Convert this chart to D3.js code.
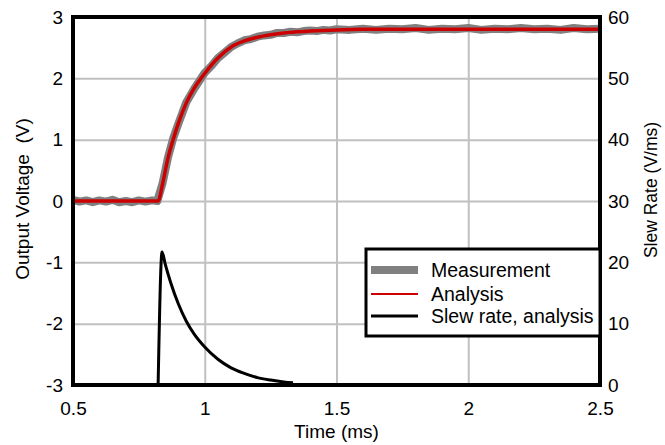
<!DOCTYPE html>
<html>
<head>
<meta charset="utf-8">
<script src="https://cdn.jsdelivr.net/npm/d3@7"></script>
<style>
	body { margin: 0; background: #fff; }
	text { font-family: Arial, "Liberation Sans", sans-serif; fill: #000; }
</style>
</head>
<body>
<svg id="myChart" width="665" height="445"></svg>
<script>
// Tick values for the three axes
const timeTicks = [0.5, 1, 1.5, 2, 2.5];
const voltTicks = [-3, -2, -1, 0, 1, 2, 3];
const slewTicks = [0, 10, 20, 30, 40, 50, 60];

const measTime = [0.5, 0.525, 0.55, 0.575, 0.6, 0.625, 0.65, 0.675, 0.7, 0.725, 0.75, 0.775, 0.8, 0.82,
	0.84, 0.86, 0.88, 0.9, 0.93, 0.96, 1.0, 1.025, 1.05, 1.075, 1.1, 1.125, 1.15, 1.175, 1.2, 1.225, 1.25,
	1.275, 1.3, 1.325, 1.35, 1.375, 1.4, 1.425, 1.45, 1.475, 1.5, 1.55, 1.6, 1.65, 1.7, 1.75, 1.8, 1.85,
	1.9, 1.95, 2.0, 2.05, 2.1, 2.15, 2.2, 2.25, 2.3, 2.35, 2.4, 2.45, 2.5];
const measVolt = [0.02, -0.01, 0.01, -0.02, 0.01, -0.01, 0.02, -0.02, 0.0, -0.02, 0.01, -0.01, 0.01, 0.0,
	0.29, 0.70, 1.02, 1.26, 1.61, 1.83, 2.09, 2.20, 2.33, 2.42, 2.51, 2.57, 2.62, 2.64, 2.68, 2.70, 2.71,
	2.74, 2.74, 2.76, 2.75, 2.77, 2.78, 2.77, 2.79, 2.78, 2.80, 2.79, 2.81, 2.79, 2.81, 2.80, 2.82, 2.79,
	2.81, 2.80, 2.82, 2.79, 2.81, 2.80, 2.82, 2.80, 2.81, 2.79, 2.82, 2.80, 2.81];

// Analysis output voltage
const anaTime = [0.5, 0.823, 0.84, 0.86, 0.88, 0.9, 0.93, 0.96, 1.0, 1.05, 1.1, 1.15, 1.2, 1.3, 1.4, 1.5, 1.6, 1.8, 2.0, 2.5];
const anaVolt = [0, 0, 0.28, 0.69, 1.0, 1.27, 1.6, 1.84, 2.08, 2.33, 2.51, 2.61, 2.67, 2.74, 2.77, 2.79, 2.80, 2.80, 2.80, 2.80];

// Analysis slew rate (V/ms)
const slewTime = [0.823, 0.838, 0.85, 0.87, 0.9, 0.93, 0.96, 1.0, 1.05, 1.1, 1.15, 1.2, 1.25, 1.3, 1.335];
const slewRate = [0, 21.7, 19.7, 16.8, 13.2, 10.4, 8.3, 6.2, 4.2, 2.8, 1.9, 1.2, 0.8, 0.5, 0.35];

// Legend entries
const legendNames = ['Measurement', 'Analysis', 'Slew rate, analysis'];

// Plot frame
const plotLeft = 73, plotRight = 600, plotTop = 17, plotBottom = 385;

const svg = d3.select('#myChart');

const xScale = d3.scaleLinear().domain([0.5, 2.5]).range([plotLeft, plotRight]);
const yScale = d3.scaleLinear().domain([-3, 3]).range([plotBottom, plotTop]);
const y2Scale = d3.scaleLinear().domain([0, 60]).range([plotBottom, plotTop]);

// Grid lines
svg.append('g')
	.attr('class', 'grid-x')
	.attr('transform', `translate(0, ${plotBottom})`)
	.call(d3.axisBottom(xScale).tickValues(timeTicks.slice(1, -1)).tickSize(-(plotBottom - plotTop)).tickFormat(''))
	.call(g => g.select('.domain').remove())
	.selectAll('line').attr('stroke', '#c0c0c0').attr('stroke-width', 2);

svg.append('g')
	.attr('class', 'grid-y')
	.attr('transform', `translate(${plotLeft}, 0)`)
	.call(d3.axisLeft(yScale).tickValues(voltTicks.slice(1, -1)).tickSize(-(plotRight - plotLeft)).tickFormat(''))
	.call(g => g.select('.domain').remove())
	.selectAll('line').attr('stroke', '#c0c0c0').attr('stroke-width', 2);

// Tick labels
const styleTicks = g => {
	g.select('.domain').remove();
	g.selectAll('line').remove();
	g.selectAll('text').attr('font-size', 19).attr('font-family', 'Arial, "Liberation Sans", sans-serif').attr('fill', '#000');
};

svg.append('g')
	.attr('transform', `translate(0, ${plotBottom})`)
	.call(d3.axisBottom(xScale).tickValues(timeTicks).tickSize(0).tickFormat(d => d))
	.call(styleTicks)
	.selectAll('text').attr('y', 30).attr('dy', 0);

svg.append('g')
	.attr('transform', `translate(${plotLeft}, 0)`)
	.call(d3.axisLeft(yScale).tickValues(voltTicks).tickSize(0).tickPadding(10).tickFormat(d => d))
	.call(styleTicks);

svg.append('g')
	.attr('transform', `translate(${plotRight}, 0)`)
	.call(d3.axisRight(y2Scale).tickValues(slewTicks).tickSize(0).tickPadding(8).tickFormat(d => d))
	.call(styleTicks);

// Axis titles
svg.append('text')
	.attr('transform', 'translate(29, 199) rotate(-90)')
	.attr('text-anchor', 'middle')
	.attr('font-size', 19)
	.style('white-space', 'pre')
	.text('Output Voltage  (V)');

svg.append('text')
	.attr('transform', 'translate(657, 190) rotate(-90)')
	.attr('text-anchor', 'middle')
	.attr('font-size', 17.5)
	.text('Slew Rate (V/ms)');

svg.append('text')
	.attr('x', (plotLeft + plotRight) / 2)
	.attr('y', 438)
	.attr('text-anchor', 'middle')
	.attr('font-size', 19)
	.text('Time (ms)');

// Clip the curves to the frame
svg.append('clipPath').attr('id', 'plotClip')
	.append('rect')
	.attr('x', plotLeft).attr('y', plotTop)
	.attr('width', plotRight - plotLeft).attr('height', plotBottom - plotTop);

const plot = svg.append('g').attr('clip-path', 'url(#plotClip)');

const voltLine = d3.line()
	.x(p => xScale(p[0]))
	.y(p => yScale(p[1]));

const slewLine = d3.line()
	.x(p => xScale(p[0]))
	.y(p => y2Scale(p[1]));

plot.append('path')
	.datum(measTime.map((t, i) => [t, measVolt[i]]))
	.attr('d', voltLine)
	.attr('fill', 'none')
	.attr('stroke', '#808080')
	.attr('stroke-width', 8)
	.attr('stroke-linejoin', 'round');

plot.append('path')
	.datum(anaTime.map((t, i) => [t, anaVolt[i]]))
	.attr('d', voltLine.curve(d3.curveMonotoneX))
	.attr('fill', 'none')
	.attr('stroke', '#cc0000')
	.attr('stroke-width', 3.5);

plot.append('path')
	.datum(slewTime.map((t, i) => [t, slewRate[i]]))
	.attr('d', slewLine.curve(d3.curveMonotoneX))
	.attr('fill', 'none')
	.attr('stroke', '#000')
	.attr('stroke-width', 3);

// Frame
svg.append('rect')
	.attr('x', plotLeft).attr('y', plotTop)
	.attr('width', plotRight - plotLeft).attr('height', plotBottom - plotTop)
	.attr('fill', 'none')
	.attr('stroke', '#000')
	.attr('stroke-width', 4);

// Legend
const legend = svg.append('g').attr('class', 'legend');

legend.append('rect')
	.attr('x', 366).attr('y', 249)
	.attr('width', plotRight - 366).attr('height', 87)
	.attr('fill', '#fff')
	.attr('stroke', '#000')
	.attr('stroke-width', 3);

const legendStyle = [
	{ color: '#808080', width: 8, y: 270 },
	{ color: '#cc0000', width: 2, y: 294 },
	{ color: '#000', width: 3, y: 316 }
];

legendNames.forEach((name, i) => {
	const ly = legendStyle[i].y;
	legend.append('line')
		.attr('x1', 371).attr('x2', 418)
		.attr('y1', ly).attr('y2', ly)
		.attr('stroke', legendStyle[i].color)
		.attr('stroke-width', legendStyle[i].width);
	legend.append('text')
		.attr('x', 431).attr('y', ly + 7)
		.attr('font-size', 19.5)
		.text(name);
});
</script>
</body>
</html>
